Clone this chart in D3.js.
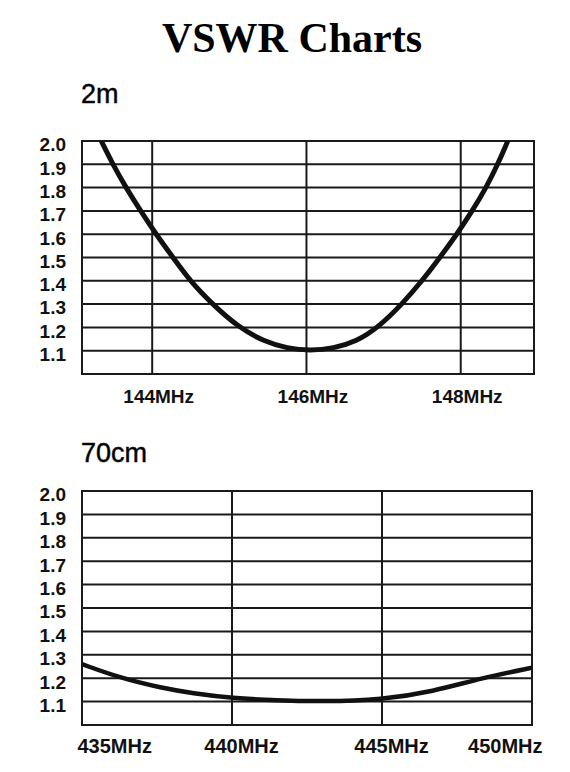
<!DOCTYPE html>
<html>
<head>
<meta charset="utf-8">
<script src="https://cdn.jsdelivr.net/npm/d3@7"></script>
<style>
  body { margin: 0; background: #fff; }
  svg { display: block; }
</style>
</head>
<body>
<div id="chart"></div>
<script>
// --- Data ---
const vswrTicks = [1.1, 1.2, 1.3, 1.4, 1.5, 1.6, 1.7, 1.8, 1.9, 2.0];

// 2m band
const freq2m = [143.34, 143.49, 143.66, 143.85, 144.05, 144.27, 144.49, 144.78, 145.12, 145.45, 145.75, 146.05, 146.35, 146.65, 146.93, 147.24, 147.50, 147.73, 147.95, 148.15, 148.33, 148.48, 148.61];
const vswr2m = [2.0, 1.9, 1.8, 1.7, 1.6, 1.5, 1.4, 1.3, 1.2, 1.14, 1.11, 1.10, 1.11, 1.14, 1.2, 1.3, 1.4, 1.5, 1.6, 1.7, 1.8, 1.9, 2.0];
const ticks2m = [144, 146, 148];
const grid2m = [144, 146, 148];

// 70cm band
const freq70 = [435, 436.3, 437.6, 438.7, 440, 441.5, 443, 445, 446.7, 448.3, 450];
const vswr70 = [1.26, 1.2, 1.16, 1.135, 1.115, 1.105, 1.10, 1.108, 1.143, 1.2, 1.245];
const ticks70 = [435, 440, 445, 450];
const grid70 = [440, 445];

const svg = d3.select("#chart")
  .append("svg")
  .attr("width", 570)
  .attr("height", 772);

svg.append("rect").attr("width", 570).attr("height", 772).attr("fill", "#fff");

// Main title
svg.append("text")
  .attr("x", 292)
  .attr("y", 52)
  .attr("text-anchor", "middle")
  .style("font-family", "'Liberation Serif', 'Times New Roman', serif")
  .style("font-weight", "bold")
  .style("font-size", "42px")
  .text("VSWR Charts");

// Draws one band panel
function drawPanel(opt) {
  const g = svg.append("g").attr("transform", `translate(${opt.left},${opt.top})`);
  const width = opt.width, height = opt.height;

  const x = d3.scaleLinear().domain(opt.xDomain).range([0, width]);
  const y = d3.scaleLinear().domain([1.0, 2.0]).range([height, 0]);

  // band name
  g.append("text")
    .attr("x", -1)
    .attr("y", opt.nameY)
    .style("font-family", "'Liberation Sans', Arial, sans-serif")
    .style("font-size", "27px")
    .style("stroke", "#111")
    .style("stroke-width", 0.5)
    .text(opt.name);

  // horizontal grid
  g.selectAll(".hgrid")
    .data(vswrTicks.filter(d => d < 2.0))
    .enter()
    .append("line")
    .attr("x1", 0).attr("x2", width)
    .attr("y1", d => y(d)).attr("y2", d => y(d))
    .attr("stroke", "#1a1a1a")
    .attr("stroke-width", 2);

  // vertical grid
  g.selectAll(".vgrid")
    .data(opt.grid)
    .enter()
    .append("line")
    .attr("x1", d => x(d)).attr("x2", d => x(d))
    .attr("y1", 0).attr("y2", height)
    .attr("stroke", "#1a1a1a")
    .attr("stroke-width", 2);

  // frame
  g.append("rect")
    .attr("width", width)
    .attr("height", height)
    .attr("fill", "none")
    .attr("stroke", "#1a1a1a")
    .attr("stroke-width", 2);

  // y labels
  const ya = g.append("g")
    .call(d3.axisLeft(y).tickValues(vswrTicks).tickFormat(d3.format(".1f")).tickSize(0).tickPadding(16));
  ya.select(".domain").remove();
  ya.selectAll("text")
    .attr("dy", "0.52em")
    .style("font-family", "'Liberation Sans', Arial, sans-serif")
    .style("font-weight", "bold")
    .style("font-size", "19px")
    .attr("fill", "#111");

  // x labels
  const xa = g.append("g")
    .attr("transform", `translate(0,${height})`)
    .call(d3.axisBottom(x).tickValues(opt.ticks).tickFormat(d => d + "MHz").tickSize(0));
  xa.select(".domain").remove();
  xa.selectAll("text")
    .attr("y", opt.labelGap)
    .attr("dy", 0)
    .attr("dx", opt.labelDx)
    .attr("text-anchor", opt.labelAnchor)
    .style("font-family", "'Liberation Sans', Arial, sans-serif")
    .style("font-weight", "bold")
    .style("font-size", opt.labelSize)
    .attr("fill", "#111");

  // VSWR curve, clipped to the frame
  const clipId = "clip-" + opt.name;
  g.append("clipPath").attr("id", clipId)
    .append("rect").attr("width", width).attr("height", height);

  const pts = opt.freq.map((f, i) => [f, opt.vswr[i]]);
  g.append("path")
    .datum(pts)
    .attr("clip-path", `url(#${clipId})`)
    .attr("fill", "none")
    .attr("stroke", "#111")
    .attr("stroke-width", opt.curveWidth)
    .attr("d", d3.line().x(d => x(d[0])).y(d => y(d[1])).curve(d3.curveBasis));
}

drawPanel({
  name: "2m", nameY: -38,
  left: 82, top: 141, width: 452, height: 233,
  xDomain: [143.09, 148.95],
  freq: freq2m, vswr: vswr2m,
  ticks: ticks2m, grid: grid2m,
  labelGap: 29, labelSize: "19px",
  labelDx: () => 6, labelAnchor: () => "middle",
  curveWidth: 5
});

drawPanel({
  name: "70cm", nameY: -29,
  left: 82, top: 491, width: 450, height: 234,
  xDomain: [435, 450],
  freq: freq70, vswr: vswr70,
  ticks: ticks70, grid: grid70,
  labelGap: 28, labelSize: "20px",
  labelDx: (d, i) => i === 0 ? -5 : (i === ticks70.length - 1 ? 10 : 9),
  labelAnchor: (d, i) => i === 0 ? "start" : (i === ticks70.length - 1 ? "end" : "middle"),
  curveWidth: 4.5
});
</script>
</body>
</html>
